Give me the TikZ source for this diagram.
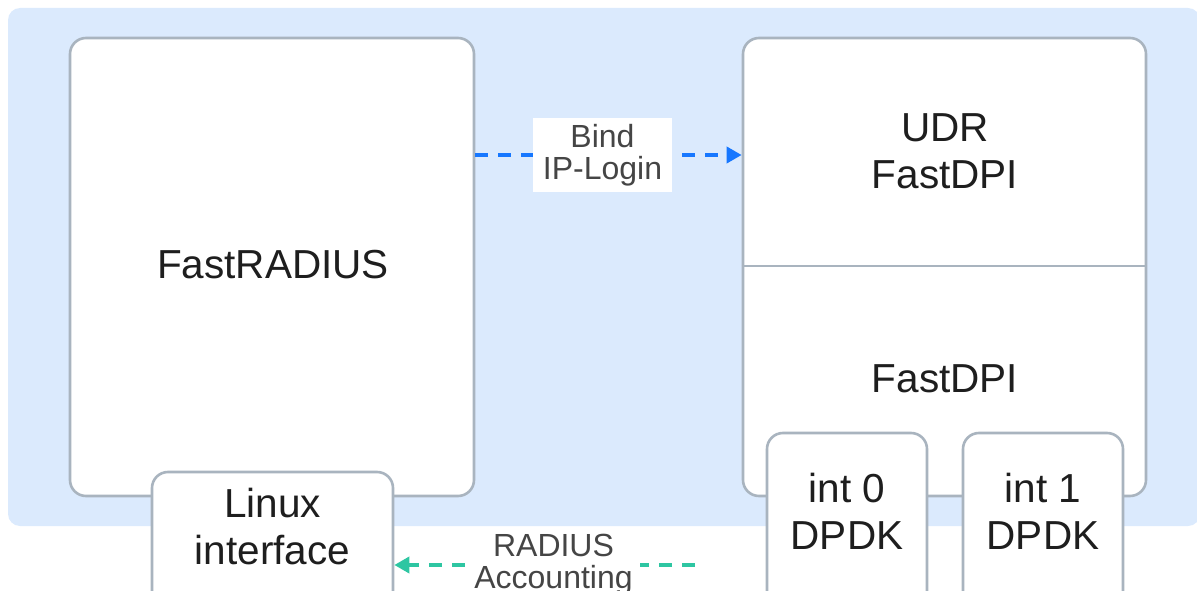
\documentclass[tikz,border=0pt]{standalone}
\usepackage{fontspec}
\setmainfont{Liberation Sans}
\usetikzlibrary{arrows.meta}
\definecolor{bgblue}{HTML}{DBEAFD}
\definecolor{boxline}{HTML}{A9B4BF}
\definecolor{maintext}{HTML}{1E1E1E}
\definecolor{labeltext}{HTML}{454545}
\definecolor{bindblue}{HTML}{1677FF}
\definecolor{accgreen}{HTML}{2EC6A2}
\begin{document}
\begin{tikzpicture}[x=1pt,y=-1pt,
  panel/.style={draw=boxline, line width=2.6pt, fill=white, rounded corners=16pt, inner sep=0pt},
  bigtext/.style={text=maintext, font=\fontsize{40.5}{47}\selectfont, align=center, inner sep=0pt},
  flowlabel/.style={fill=white, text=labeltext, font=\fontsize{32}{32}\selectfont, align=center, inner sep=0pt},
  flowarrow/.style={line width=3.6pt, dash pattern=on 13pt off 10pt, -{Triangle[length=15pt,width=16pt]}}
]
\useasboundingbox (0,0) rectangle (1197,591);
\clip (0,0) rectangle (1197,591);
% background
\fill[bgblue, rounded corners=12pt] (8,8) rectangle (1200,526);
% big boxes
\node[panel, minimum width=404pt, minimum height=458pt] (fr) at (272,267) {};
\node[bigtext] (frtext) at (273,265) {FastRADIUS};
\node[panel, minimum width=403pt, minimum height=458pt] (dpi) at (944.5,267) {};
\coordinate (divy) at (0,266);
\draw[boxline, line width=2.6pt] (dpi.west |- divy) -- (dpi.east |- divy);
\node[bigtext] (udrtext) at (945,151) {UDR\\FastDPI};
\node[bigtext] (fdpitext) at (945,379) {FastDPI};
% small boxes
\node[panel, minimum width=241pt, minimum height=168pt] (linux) at (272.5,556) {};
\node[bigtext] (linuxtext) at (272.5,527) {Linux\\interface};
\node[panel, minimum width=160pt, minimum height=207pt] (int0) at (847,536.5) {};
\node[bigtext] (int0text) at (847,511) {int 0\\DPDK};
\node[panel, minimum width=160pt, minimum height=207pt] (int1) at (1043,536.5) {};
\node[bigtext] (int1text) at (1043,511) {int 1\\DPDK};
% connectors
\coordinate (bindy) at (0,155);
\draw[flowarrow, bindblue] (fr.east |- bindy) -- (dpi.west |- bindy);
\node[flowlabel, minimum width=139pt, minimum height=74pt] (bind) at (602.5,155) {Bind\\IP-Login};
\coordinate (accstart) at (695,565);
\draw[flowarrow, accgreen] (accstart) -- (linux.east |- accstart);
\node[flowlabel, minimum width=173pt, minimum height=74pt] (acc) at (553.5,565) {RADIUS\\Accounting};
\end{tikzpicture}
\end{document}
